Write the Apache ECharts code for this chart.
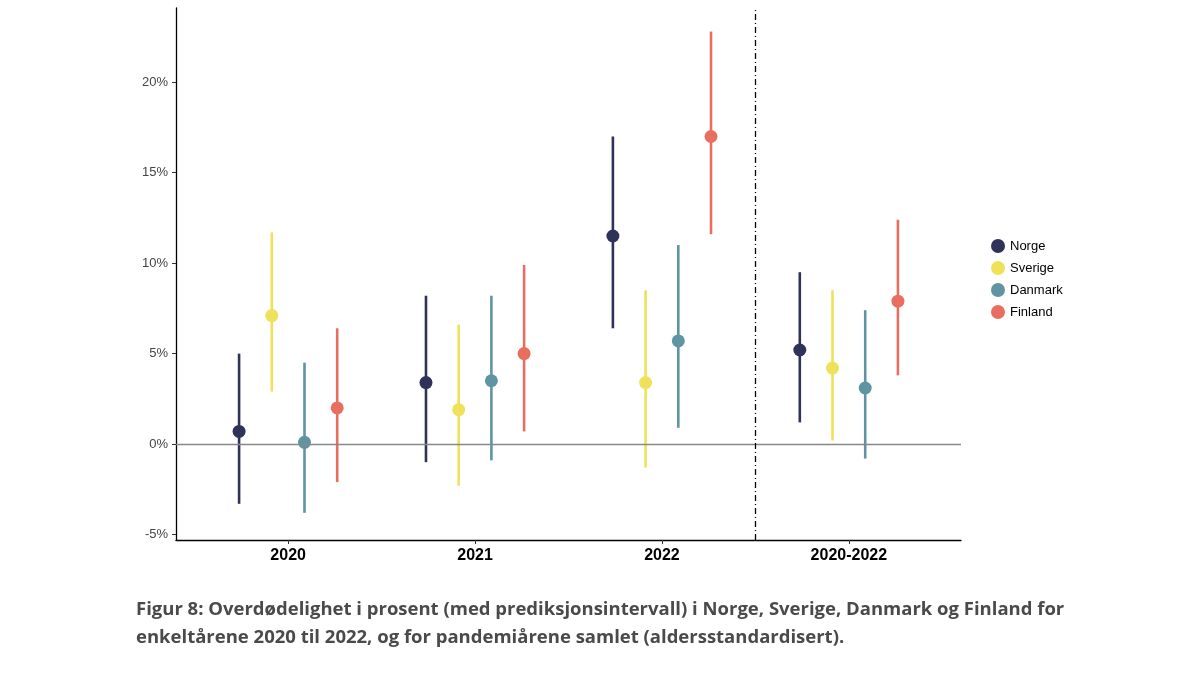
<!DOCTYPE html>
<html><head><meta charset="utf-8">
<script src="https://cdn.jsdelivr.net/npm/echarts@6/dist/echarts.min.js"></script>
<style>html,body{margin:0;background:#fff}#c{width:1200px;height:675px}</style>
</head><body><div id="c"></div>
<script>
const categories = ['2020','2021','2022','2020-2022'];
const countries = ['Norge','Sverige','Danmark','Finland'];
const colors = ['#2f3259','#f0e15a','#5f95a2','#e86f5f'];
const estimate = {
  Norge:   [0.7, 3.4, 11.5, 5.2],
  Sverige: [7.1, 1.9, 3.4, 4.2],
  Danmark: [0.1, 3.5, 5.7, 3.1],
  Finland: [2.0, 5.0, 17.0, 7.9]
};
const lower = {
  Norge:   [-3.3, -1.0, 6.4, 1.2],
  Sverige: [2.9, -2.3, -1.3, 0.2],
  Danmark: [-3.8, -0.9, 0.9, -0.8],
  Finland: [-2.1, 0.7, 11.6, 3.8]
};
const upper = {
  Norge:   [5.0, 8.2, 17.0, 9.5],
  Sverige: [11.7, 6.6, 8.5, 8.5],
  Danmark: [4.5, 8.2, 11.0, 7.4],
  Finland: [6.4, 9.9, 22.8, 12.4]
};
const yTicks = [-5, 0, 5, 10, 15, 20];
const dodge = [-0.2625, -0.0875, 0.0875, 0.2625];

const series = [];
countries.forEach((c, i) => {
  series.push({
    name: c, type: 'custom', z: 2,
    data: categories.map((k, j) => [j + 1 + dodge[i], lower[c][j], upper[c][j]]),
    renderItem: (params, api) => {
      const p1 = api.coord([api.value(0), api.value(1)]);
      const p2 = api.coord([api.value(0), api.value(2)]);
      return {type: 'line', shape: {x1: p1[0], y1: p1[1], x2: p2[0], y2: p2[1]},
        style: {stroke: colors[i], lineWidth: 2.6}};
    },
    encode: {x: 0, y: [1, 2]}
  });
  series.push({
    name: c, type: 'scatter', z: 3, symbolSize: 13,
    itemStyle: {color: colors[i], opacity: 1},
    data: categories.map((k, j) => [j + 1 + dodge[i], estimate[c][j]])
  });
});
series.push({
  type: 'line', data: [], silent: true, z: 1,
  markLine: {symbol: 'none', silent: true, label: {show: false},
    data: [
      {yAxis: 0, lineStyle: {color: '#888', width: 1.3, type: 'solid'}},
      {xAxis: 3.5, lineStyle: {color: '#000', width: 1.3, type: [6, 3, 1, 3]}}
    ]}
});

const chart = echarts.init(document.getElementById('c'));
chart.setOption({
  animation: false,
  color: colors,
  grid: {left: 176, right: 239, top: 8, bottom: 135},
  xAxis: {
    type: 'value', min: 0.4, max: 4.6, splitLine: {show: false},
    axisLine: {onZero: false, lineStyle: {color: '#000', width: 1.3}},
    axisTick: {show: true, customValues: [1, 2, 3, 4], length: 4, lineStyle: {color: '#333'}},
    axisLabel: {customValues: [1, 2, 3, 4], formatter: v => categories[Math.round(v) - 1],
      color: '#000', fontSize: 16, fontWeight: 'bold', fontFamily: 'Liberation Sans', margin: 8}
  },
  yAxis: {
    type: 'value', min: -5.3, max: 24.1, splitLine: {show: false},
    axisLine: {show: true, onZero: false, lineStyle: {color: '#000', width: 1.3}},
    axisTick: {show: true, customValues: yTicks, length: 4, lineStyle: {color: '#333'}},
    axisLabel: {customValues: yTicks, formatter: v => v + '%', color: '#444', fontSize: 13,
      fontFamily: 'Liberation Sans'}
  },
  legend: {
    orient: 'vertical', left: 986, top: 234, itemGap: 8, itemWidth: 14, itemHeight: 14,
    data: countries.map(c => ({name: c, icon: 'circle'})),
    textStyle: {fontSize: 13, color: '#000', fontFamily: 'Liberation Sans'}
  },
  graphic: [
    {type: 'text', left: 136, top: 600, style: {text: 'Figur 8: Overdødelighet i prosent (med prediksjonsintervall) i Norge, Sverige, Danmark og Finland for',
      fontSize: 18.5, fontWeight: 'bold', fill: '#4a4a4a', fontFamily: 'Open Sans'}},
    {type: 'text', left: 136, top: 628, style: {text: 'enkeltårene 2020 til 2022, og for pandemiårene samlet (aldersstandardisert).',
      fontSize: 18.5, fontWeight: 'bold', fill: '#4a4a4a', fontFamily: 'Open Sans'}}
  ],
  series
});
</script></body></html>
